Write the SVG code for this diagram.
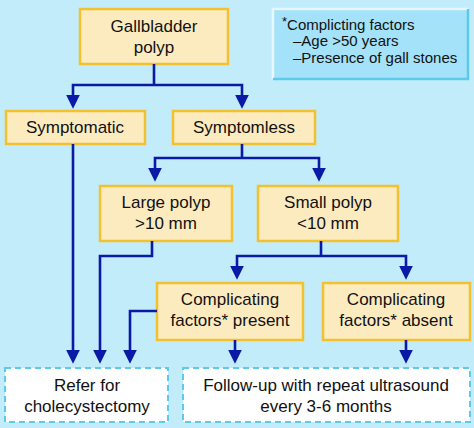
<svg xmlns="http://www.w3.org/2000/svg" width="474" height="428" viewBox="0 0 474 428">
<defs>
<marker id="ah" markerUnits="userSpaceOnUse" markerWidth="14" markerHeight="14" viewBox="0 0 12 12" refX="8" refY="6" orient="auto">
<path d="M0,0 L12,6 L0,12 z" fill="#0b1aa6"/>
</marker>
<style>
.bg{fill:#c3ecfa}
.box{fill:#fdebc0;stroke:#f3c12f;stroke-width:2.5}
.out{fill:#ffffff;stroke:#5ec9ea;stroke-width:2;stroke-dasharray:6 4}
.t{font-family:"Liberation Sans",Arial,sans-serif;font-size:17px;fill:#111;text-anchor:middle}
.lt{font-family:"Liberation Sans",Arial,sans-serif;font-size:15px;fill:#111}
.c{fill:none;stroke:#0b1aa6;stroke-width:2.6;marker-end:url(#ah)}
</style>
</defs>
<rect class="bg" x="0" y="0" width="474" height="428"/>

<g id="legend">
<rect x="273" y="9" width="195" height="70" fill="#a3e2f8"/>
<path d="M273,79 L273,9 L468,9" fill="none" stroke="#e6f8fe" stroke-width="2.5"/>
<path d="M273,79 L468,79 L468,9" fill="none" stroke="#5cc9ee" stroke-width="2.5"/>
<text class="lt" x="282" y="30"><tspan font-size="13" dy="-4">*</tspan><tspan dy="4">Complicting factors</tspan></text>
<text class="lt" x="293" y="46">–Age &gt;50 years</text>
<text class="lt" x="293" y="63">–Presence of gall stones</text>
</g>

<g id="gallbladder">
<rect class="box" x="80" y="9" width="148" height="55"/>
<text class="t" x="154" y="32">Gallbladder</text>
<text class="t" x="154" y="53">polyp</text>
</g>
<g id="symptomatic">
<rect class="box" x="6" y="111" width="139" height="33"/>
<text class="t" x="75" y="133">Symptomatic</text>
</g>
<g id="symptomless">
<rect class="box" x="173" y="111" width="142" height="33"/>
<text class="t" x="244" y="133">Symptomless</text>
</g>
<g id="large">
<rect class="box" x="100" y="186" width="132" height="55"/>
<text class="t" x="166" y="208">Large polyp</text>
<text class="t" x="166" y="229">&gt;10 mm</text>
</g>
<g id="small">
<rect class="box" x="258" y="186" width="140" height="55"/>
<text class="t" x="328" y="208">Small polyp</text>
<text class="t" x="328" y="229">&lt;10 mm</text>
</g>
<g id="present">
<rect class="box" x="157" y="283" width="146" height="57"/>
<text class="t" x="230" y="305">Complicating</text>
<text class="t" x="230" y="326">factors* present</text>
</g>
<g id="absent">
<rect class="box" x="323" y="283" width="147" height="57"/>
<text class="t" x="396" y="305">Complicating</text>
<text class="t" x="396" y="326">factors* absent</text>
</g>
<g id="refer">
<rect class="out" x="5" y="368" width="163" height="54"/>
<text class="t" x="87" y="391">Refer for</text>
<text class="t" x="87" y="412">cholecystectomy</text>
</g>
<g id="followup">
<rect class="out" x="183" y="368" width="287" height="54"/>
<text class="t" x="326" y="391">Follow-up with repeat ultrasound</text>
<text class="t" x="326" y="412">every 3-6 months</text>
</g>

<g id="connectors">
<path d="M154,64 V85" fill="none" stroke="#0b1aa6" stroke-width="2.6"/>
<path class="c" d="M154,85 H73 V104"/>
<path class="c" d="M154,85 H242 V104"/>
<path d="M242,144 V158" fill="none" stroke="#0b1aa6" stroke-width="2.6"/>
<path class="c" d="M242,158 H155 V177"/>
<path class="c" d="M242,158 H319 V177"/>
<path d="M321,241 V256" fill="none" stroke="#0b1aa6" stroke-width="2.6"/>
<path class="c" d="M321,256 H237 V275"/>
<path class="c" d="M321,256 H406 V275"/>
<path class="c" d="M73,144 V359"/>
<path class="c" d="M152,241 V256 H100 V359"/>
<path class="c" d="M157,311 H130 V359"/>
<path class="c" d="M235,340 V359"/>
<path class="c" d="M406,340 V359"/>
</g>
</svg>
